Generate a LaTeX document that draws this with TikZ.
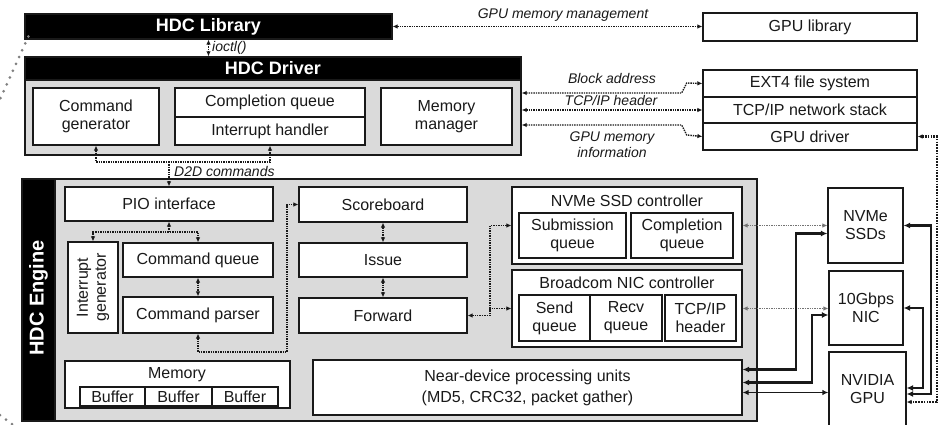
\documentclass[tikz,border=0pt]{standalone}
\usepackage{fontspec}
\setmainfont{Liberation Sans}
\usetikzlibrary{arrows.meta,calc}

\definecolor{ink}{RGB}{25,25,25}
\definecolor{panelgray}{RGB}{218,218,218}

\tikzset{
  box/.style={draw=ink, fill=white, line width=1.2pt, inner sep=0pt, align=center,
    text=ink, font=\fontsize{16}{18}\selectfont},
  panel/.style={draw=ink, fill=panelgray, line width=1.4pt},
  bar/.style={draw=ink, fill=black, line width=1.2pt, text=white,
    font=\bfseries\fontsize{18}{20}\selectfont},
  engtitle/.style={rotate=90, inner sep=0pt, text=white,
    font=\bfseries\fontsize{20}{22}\selectfont},
  ttl/.style={inner sep=0pt, text=ink, align=center, font=\fontsize{16}{18}\selectfont},
  lbl/.style={inner sep=0pt, text=ink, align=center,
    font=\itshape\fontsize{14}{16}\selectfont},
  dl/.style={draw=ink, line width=1.4pt, dash pattern=on 1.4pt off 1pt},
  gdl/.style={draw=black!55, line width=1.4pt, dash pattern=on 1.4pt off 1pt},
  dlheavy/.style={draw=ink, line width=2.2pt, dash pattern=on 1.6pt off 1.2pt},
  data/.style={draw=ink, line width=2.2pt,
    {Latex[length=6.5pt,width=6pt]}-{Latex[length=6.5pt,width=6pt]}},
  datathin/.style={draw=ink, line width=1.4pt,
    {Latex[length=6pt,width=5.5pt]}-{Latex[length=6pt,width=5.5pt]}},
  bigdot/.style={draw=black!50, line width=3pt, line cap=round,
    dash pattern=on 0pt off 7.5pt},
}

% box from corner (x1,y1) to corner (x2,y2), y growing downwards
\newcommand\mybox[7][]{%
  \node[box,minimum width={#5-#3},minimum height={#6-#4},#1] (#2)
    at ({(#3+#5)/2},{(#4+#6)/2}) {#7};}

\begin{document}
\begin{tikzpicture}[x=1pt,y=-1pt,>={Latex[length=5pt,width=4.5pt]}]
\useasboundingbox (0,0) rectangle (942,425);
\clip (0,0) rectangle (942,425);

% ---------------- host software stack ----------------
\mybox[bar]{lib}{25}{14}{392}{39}{HDC Library}
\mybox[panel]{drv}{25}{57}{521}{155}{}
\mybox[bar]{drvbar}{25}{57}{521}{80}{HDC Driver}
\mybox{cmdgen}{33}{88}{159}{145}{Command\\generator}
\mybox{cq}{175}{88}{365}{117}{Completion queue}
\mybox{ih}{175}{117}{365}{145}{Interrupt handler}
\mybox{memmgr}{381}{88}{512}{145}{Memory\\manager}

\mybox{gpulib}{703}{13}{917}{41}{GPU library}
\mybox{ext4}{703}{70}{917}{97}{EXT4 file system}
\mybox{tcpstack}{703}{97}{917}{123}{TCP/IP network stack}
\mybox{gpudrv}{703}{123}{917}{150}{GPU driver}

% ---------------- HDC engine ----------------
\mybox[panel]{eng}{22}{179}{757}{421}{}
\mybox[bar]{engbar}{22}{179}{55}{421}{}
\node[engtitle] (engtxt) at (38.5,298) {HDC Engine};

\mybox{pio}{65}{187}{273}{221}{PIO interface}
\mybox{intgen}{68}{242}{118}{333}{}
\node[ttl,rotate=90] (intgentxt) at (intgen) {Interrupt\\generator};
\mybox{cmdq}{123}{243}{273}{277}{Command queue}
\mybox{cmdp}{123}{297}{273}{333}{Command parser}

\mybox{score}{299}{187}{467}{222}{Scoreboard}
\mybox{issue}{299}{243}{467}{277}{Issue}
\mybox{fwd}{299}{298}{467}{333}{Forward}

\mybox{nvmec}{512}{187}{742}{264}{}
\node[ttl] (nvmettl) at (627,201) {NVMe SSD controller};
\mybox{subq}{519}{213}{626}{258}{Submission\\queue}
\mybox{compq}{631}{213}{733}{258}{Completion\\queue}

\mybox{nicc}{512}{270}{742}{347}{}
\node[ttl] (nicttl) at (627,283) {Broadcom NIC controller};
\mybox{sendq}{519}{295}{590}{341}{Send\\queue}
\mybox{recvq}{590}{295}{662}{341}{Recv\\queue}
\mybox{tcph}{665}{295}{736}{341}{TCP/IP\\header}

\mybox{mem}{65}{361}{290}{408}{}
\node[ttl] (memttl) at (177,375) {Memory};
\mybox{buf1}{80}{387}{145}{406}{Buffer}
\mybox{buf2}{145}{387}{212}{406}{Buffer}
\mybox{buf3}{212}{387}{278}{406}{Buffer}

\mybox{ndp}{313}{360}{742}{415}{Near-device processing units\\[3pt](MD5, CRC32, packet gather)}

% ---------------- devices ----------------
\mybox{ssds}{828}{188}{903}{263}{NVMe\\SSDs}
\mybox{nic}{829}{271}{903}{345}{10Gbps\\NIC}
\mybox{gpu}{829}{352}{906}{426}{NVIDIA\\GPU}

% ---------------- labels ----------------
\node[lbl,anchor=west] (ioctllbl) at (212,48) {ioctl()};
\node[lbl] (gmmlbl) at (563,15) {GPU memory management};
\node[lbl] (balbl) at (612,79) {Block address};
\node[lbl] (thlbl) at (611,100) {TCP/IP header};
\node[lbl] (gmilbl) at (612,145) {GPU memory\\information};
\node[lbl,anchor=west] (d2dlbl) at (174,171) {D2D commands};

% ---------------- control paths (dotted) ----------------
\draw[dl,<->] (lib.south) -- (lib.south |- drv.north);
\draw[dl,<->] (lib.east) -- (lib.east -| gpulib.west);

\draw[dl,<->] ([yshift=13pt]drv.east) -- ++(160,0) -- ++(5,-10) -- (ext4.west);
\draw[dl,<->] (tcpstack.west -| drv.east) -- (tcpstack.west);
\draw[dl,<->] ([yshift=-19pt]drv.east) -- ++(160,0) -- ++(5,10) -- (gpudrv.west);

\coordinate (d2d) at (169,162);
\draw[dl,<->] (cmdgen.south) -- (cmdgen.south |- d2d) -- (ih.south |- d2d) -- (ih.south);
\draw[dl,->] (d2d) -- (pio.north);

\coordinate (pj) at (169,232);
\draw[dl,<->] (intgen.north) -- (intgen.north |- pj) -- (cmdq.north |- pj) -- (cmdq.north);
\draw[dl,->] (pj) -- (pio.south);
\draw[dl,<->] (cmdq.south) -- (cmdp.north);

\coordinate (sj) at (287,352);
\draw[dl,<->] (cmdp.south) -- (cmdp.south |- sj) -- (sj) -- (sj |- score.west) -- (score.west);

\draw[dl,<->] (score.south) -- (issue.north);
\draw[dl,<->] (issue.south) -- (fwd.north);

\coordinate (fj) at (490,315.5);
\draw[dl,<->] (fwd.east) -- (fj) -- (fj |- nicc.west) -- (nicc.west);
\draw[dl,->] (fj |- nicc.west) -- (fj |- nvmec.west) -- (nvmec.west);

\draw[gdl,<->] (nvmec.east) -- (nvmec.east -| ssds.west);
\draw[gdl,<->] (nicc.east) -- (nicc.east -| nic.west);

% ---------------- data paths (solid) ----------------
\draw[data] ([yshift=18pt]ndp.east) -- ++(53,0) |- ([yshift=-8pt]ssds.west);
\draw[data] ([yshift=5pt]ndp.east) -- ++(69,0) |- ([yshift=-7pt]nic.west);
\draw[datathin] ([yshift=-5pt]ndp.east) -- ([yshift=-5pt]ndp.east -| gpu.west);

\draw[data] (ssds.east) -- ++(27,0) |- ([yshift=-5pt]gpu.east);
\draw[data] (nic.east) -- ++(19,0) |- ([yshift=1pt]gpu.east);
\draw[dlheavy,<->] (gpudrv.east) -- ++(19,0) |- ([yshift=-13pt]gpu.east);

% ---------------- zoom guide lines ----------------
\coordinate (zt) at (-3,106);
\draw[bigdot] ([shift={(4pt,3pt)}]lib.south west) -- (zt);
\coordinate (zb1) at (0,415);
\coordinate (zb2) at (16,427);
\draw[bigdot] (zb1) -- (zb2);
\end{tikzpicture}
\end{document}
